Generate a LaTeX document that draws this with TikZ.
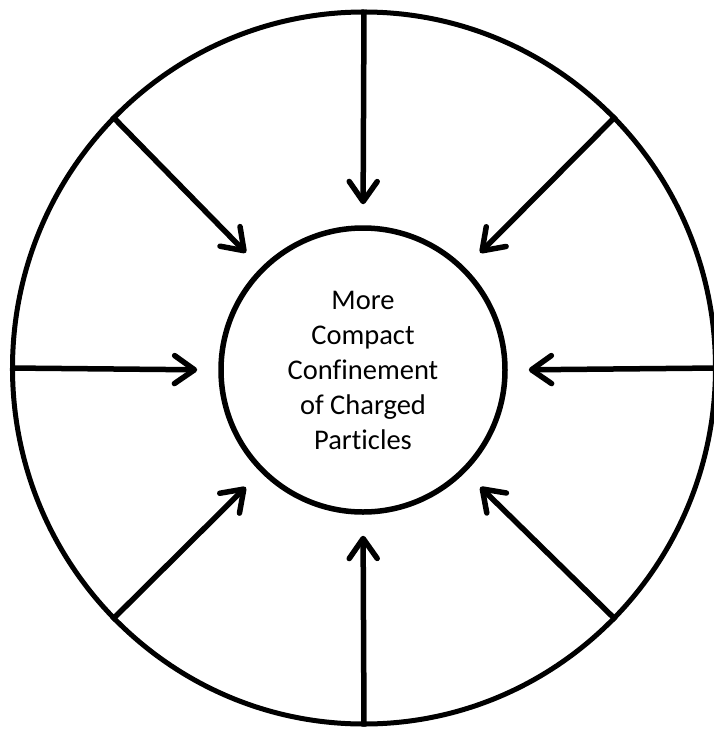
\documentclass[tikz,border=0pt]{standalone}
\usepackage{fontspec}
\setmainfont[Ligatures=NoCommon]{Carlito}
\usetikzlibrary{arrows.meta,shapes.geometric}
\begin{document}
\begin{tikzpicture}[x=1pt,y=-1pt,
  ring/.style={draw,line width=5pt,inner sep=0pt},
  push/.style={line width=5.5pt,-{Straight Barb[length=20pt,width=28pt,round]},shorten >=21pt}]
\useasboundingbox (0,0) rectangle (714,731);
\node[ring,ellipse,minimum width=703pt,minimum height=712pt] (outer) at (364,368) {};
\node[ring,line width=5.5pt,circle,minimum size=284pt,align=center,font=\fontsize{28.5}{35}\selectfont] (inner) at (363,370) {More\\Compact\\Confinement\\of Charged\\Particles};
\foreach \a in {0,45,...,315} \draw[push] (outer.\a) -- (inner.\a);
\end{tikzpicture}
\end{document}
